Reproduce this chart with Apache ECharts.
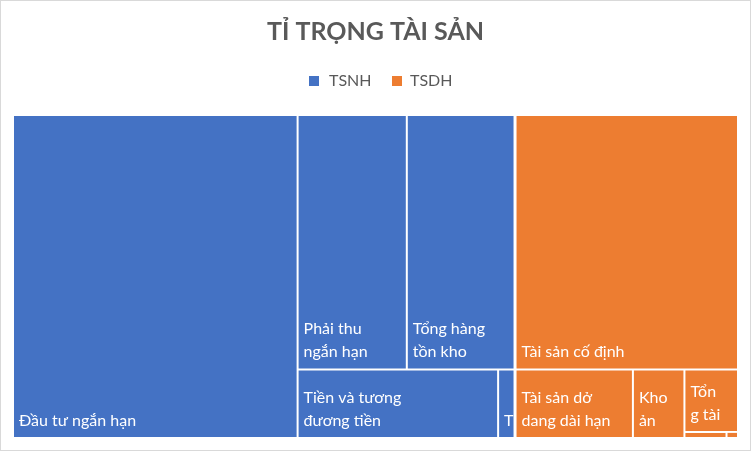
<!DOCTYPE html>
<html>
<head>
<meta charset="utf-8">
<script src="https://cdn.jsdelivr.net/npm/echarts@6/dist/echarts.min.js"></script>
<style>
  body { margin: 0; background: #fff; }
  #main { width: 751px; height: 451px; }
  #frame { position: absolute; left: 0; top: 0; width: 751px; height: 451px;
           box-sizing: border-box; border: 1px solid #d9d9d9; pointer-events: none; }
</style>
</head>
<body>
<div id="main"></div>
<div id="frame"></div>
<script>
// nhóm tài sản
var groups = ['TSNH', 'TSDH'];
// tài sản ngắn hạn (% tổng tài sản, ước lượng từ hình)
var tsnhNames = ['Đầu tư ngắn hạn', 'Phải thu ngắn hạn', 'Tổng hàng tồn kho', 'Tiền và tương đương tiền', 'Tài sản ngắn hạn khác'];
var tsnhValues = [39.28, 11.88, 11.72, 5.86, 0.48];
// tài sản dài hạn
var tsdhNames = ['Tài sản cố định', 'Tài sản dở dang dài hạn', 'Khoản đầu tư tài chính dài hạn', 'Tổng tài sản dài hạn khác', 'Phải thu dài hạn', 'Bất động sản đầu tư'];
var tsdhValues = [24.26, 3.44, 1.51, 1.43, 0.11, 0.03];

var colors = ['#4472C4', '#ED7D31'];
var font = 'Lato, "Noto Sans", sans-serif';

function children(names, values, color) {
    return names.map(function (n, i) {
        return { name: n, value: values[i], itemStyle: { color: color } };
    });
}

var treeData = [
    { name: groups[0], itemStyle: { color: colors[0] }, children: children(tsnhNames, tsnhValues, colors[0]) },
    { name: groups[1], itemStyle: { color: colors[1] }, children: children(tsdhNames, tsdhValues, colors[1]) }
];

var myChart = echarts.init(document.getElementById('main'));
var option = {
    animation: false,
    title: {
        text: 'TỈ TRỌNG TÀI SẢN',
        left: 'center',
        top: 14,
        textStyle: { fontFamily: font, fontSize: 25, fontWeight: 'bold', color: '#595959' }
    },
    graphic: [
        { type: 'rect', shape: { x: 309, y: 76, width: 10, height: 10 }, style: { fill: colors[0] } },
        { type: 'text', x: 329, y: 81, style: { text: groups[0], fill: '#595959', font: '16px ' + font, verticalAlign: 'middle' } },
        { type: 'rect', shape: { x: 392, y: 76, width: 10, height: 10 }, style: { fill: colors[1] } },
        { type: 'text', x: 410, y: 81, style: { text: groups[1], fill: '#595959', font: '16px ' + font, verticalAlign: 'middle' } }
    ],
    series: [{
        type: 'treemap',
        left: 14,
        top: 116,
        width: 723,
        height: 321,
        roam: false,
        nodeClick: false,
        breadcrumb: { show: false },
        squareRatio: 1.35,
        label: {
            show: true,
            position: 'insideBottomLeft',
            distance: 0,
            color: '#fff',
            fontFamily: font,
            fontSize: 16,
            lineHeight: 23,
            overflow: 'break'
        },
        emphasis: { disabled: true },
        levels: [
            { itemStyle: { gapWidth: 3, borderWidth: 0 } },
            { itemStyle: { gapWidth: 2, borderWidth: 0 }, label: { show: false } },
            { itemStyle: { borderWidth: 0 } }
        ],
        data: treeData
    }]
};
myChart.setOption(option);
</script>
</body>
</html>
